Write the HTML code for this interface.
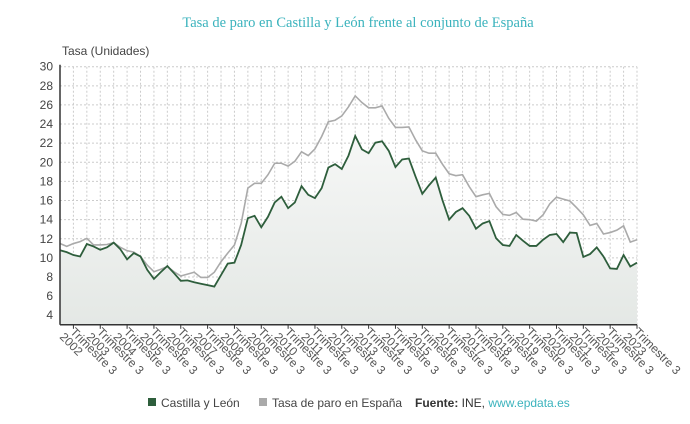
<!DOCTYPE html>
<html><head><meta charset="utf-8"><style>
body{margin:0;background:#fff;width:690px;height:424px;overflow:hidden}
svg{display:block}
text{font-family:"Liberation Sans",sans-serif}
</style></head><body>
<svg id="chart" width="690" height="424">
<defs><linearGradient id="fillg" x1="0" y1="0" x2="0" y2="1"><stop offset="0" stop-color="#f6f7f6"/><stop offset="1" stop-color="#e4e8e5"/></linearGradient></defs>
<text x="358" y="27" text-anchor="middle" font-size="14.5" fill="#3bb3bd" style="font-family:'Liberation Serif',serif">Tasa de paro en Castilla y León frente al conjunto de España</text>
<text x="62" y="55" font-size="12" fill="#444">Tasa (Unidades)</text>
<g id="grid"></g><g id="series"></g><g id="axes"></g>
<g>
<rect x="148" y="398" width="8" height="8" fill="#2e5e3c"/>
<text x="161" y="407" font-size="12" fill="#444">Castilla y León</text>
<rect x="259" y="398" width="8" height="8" fill="#aaa"/>
<text x="272" y="407" font-size="12" fill="#444">Tasa de paro en España</text>
<text x="415" y="407" font-size="12" fill="#333"><tspan font-weight="bold">Fuente:</tspan> INE, <tspan fill="#3bb3bd">www.epdata.es</tspan></text>
</g>
</svg>
<script>
const years=[2002,2003,2004,2005,2006,2007,2008,2009,2010,2011,2012,2013,2014,2015,2016,2017,2018,2019,2020,2021,2022,2023];
const yTicks=[4,6,8,10,12,14,16,18,20,22,24,26,28,30];
const castilla=[10.8,10.6,10.3,10.15,11.45,11.2,10.85,11.1,11.6,10.9,9.85,10.5,10.15,8.75,7.8,8.5,9.15,8.4,7.6,7.65,7.45,7.3,7.15,7.0,8.2,9.4,9.5,11.35,14.15,14.4,13.2,14.3,15.8,16.4,15.2,15.8,17.5,16.6,16.25,17.3,19.45,19.8,19.3,20.7,22.75,21.35,20.95,22.05,22.2,21.2,19.5,20.3,20.4,18.5,16.7,17.6,18.4,16.05,14.0,14.8,15.2,14.4,13.05,13.6,13.85,12.05,11.35,11.25,12.4,11.8,11.25,11.25,11.9,12.4,12.5,11.65,12.65,12.6,10.1,10.4,11.1,10.15,8.9,8.85,10.3,9.1,9.5];
const espana=[11.5,11.2,11.5,11.7,12.05,11.35,11.35,11.4,11.6,11.1,10.75,10.6,10.15,9.25,8.55,8.8,9.1,8.55,8.1,8.3,8.5,7.95,7.95,8.5,9.6,10.5,11.35,13.6,17.3,17.8,17.8,18.7,19.9,19.9,19.6,20.1,21.1,20.7,21.4,22.7,24.25,24.4,24.85,25.8,26.95,26.25,25.7,25.7,25.9,24.6,23.65,23.65,23.7,22.35,21.2,20.95,20.95,19.8,18.8,18.6,18.7,17.45,16.4,16.6,16.75,15.35,14.55,14.45,14.75,14.05,14.0,13.85,14.5,15.65,16.35,16.15,15.95,15.25,14.5,13.4,13.6,12.5,12.65,12.9,13.35,11.65,11.9];
const X0=60,X1=637,YMIN=3,YMAX=30,YT=66.7,YB=324.8;
const n=castilla.length;
const xs=i=>X0+(X1-X0)*i/(n-1);
const ys=v=>YB-(v-YMIN)/(YMAX-YMIN)*(YB-YT);
const NS="http://www.w3.org/2000/svg";
function mk(t,a,p){const e=document.createElementNS(NS,t);for(const k in a)e.setAttribute(k,a[k]);p.appendChild(e);return e;}
const grid=document.getElementById('grid'),ser=document.getElementById('series'),ax=document.getElementById('axes');
yTicks.forEach(v=>{
 const l=mk('line',{x1:X0,x2:X1,y1:ys(v),y2:ys(v),stroke:'#ccc','stroke-dasharray':'2,2'},grid);
 
 
 const t=mk('text',{x:53,y:ys(v)+4,'text-anchor':'end','font-size':12,fill:'#444'},ax);
 t.textContent=v;
 
 
});
for(let i=0;i<n;i+=2){
 const l=mk('line',{x1:xs(i),x2:xs(i),y1:YT,y2:YB,stroke:'#ccc','stroke-dasharray':'2,2'},grid);
 
 
}
const ptsC=castilla.map((v,i)=>xs(i)+','+ys(v)).join(' ');
const area=mk('polygon',{points:ptsC+' '+X1+','+YB+' '+X0+','+YB,fill:'url(#fillg)'},ser);


const le=mk('polyline',{points:espana.map((v,i)=>xs(i)+','+ys(v)).join(' '),fill:'none',stroke:'#aaa','stroke-width':1.6},ser);


const lc=mk('polyline',{points:ptsC,fill:'none',stroke:'#2e5e3c','stroke-width':1.8},ser);


const ya=mk('line',{x1:X0,x2:X0,y1:YT-2,y2:YB,stroke:'#333','stroke-width':1.5},ax);


const xa=mk('line',{x1:X0,x2:X1,y1:YB,y2:YB,stroke:'#333','stroke-width':1.5},ax);


years.forEach((yr,k)=>{
 const i=2+4*k,x=xs(i);
 const tk=mk('line',{x1:x,x2:x,y1:YB,y2:YB+4,stroke:'#333'},ax);
 
 
 const g=mk('g',{transform:'translate('+(x-1)+','+(YB+5)+') rotate(45)'},ax);
 
 
 const t1=mk('text',{x:0,y:4,'font-size':12,fill:'#555'},g);t1.textContent='Trimestre 3';
 const t2=mk('text',{x:-4,y:15,'font-size':12,fill:'#555'},g);t2.textContent=yr;
});
</script>
</body></html>
